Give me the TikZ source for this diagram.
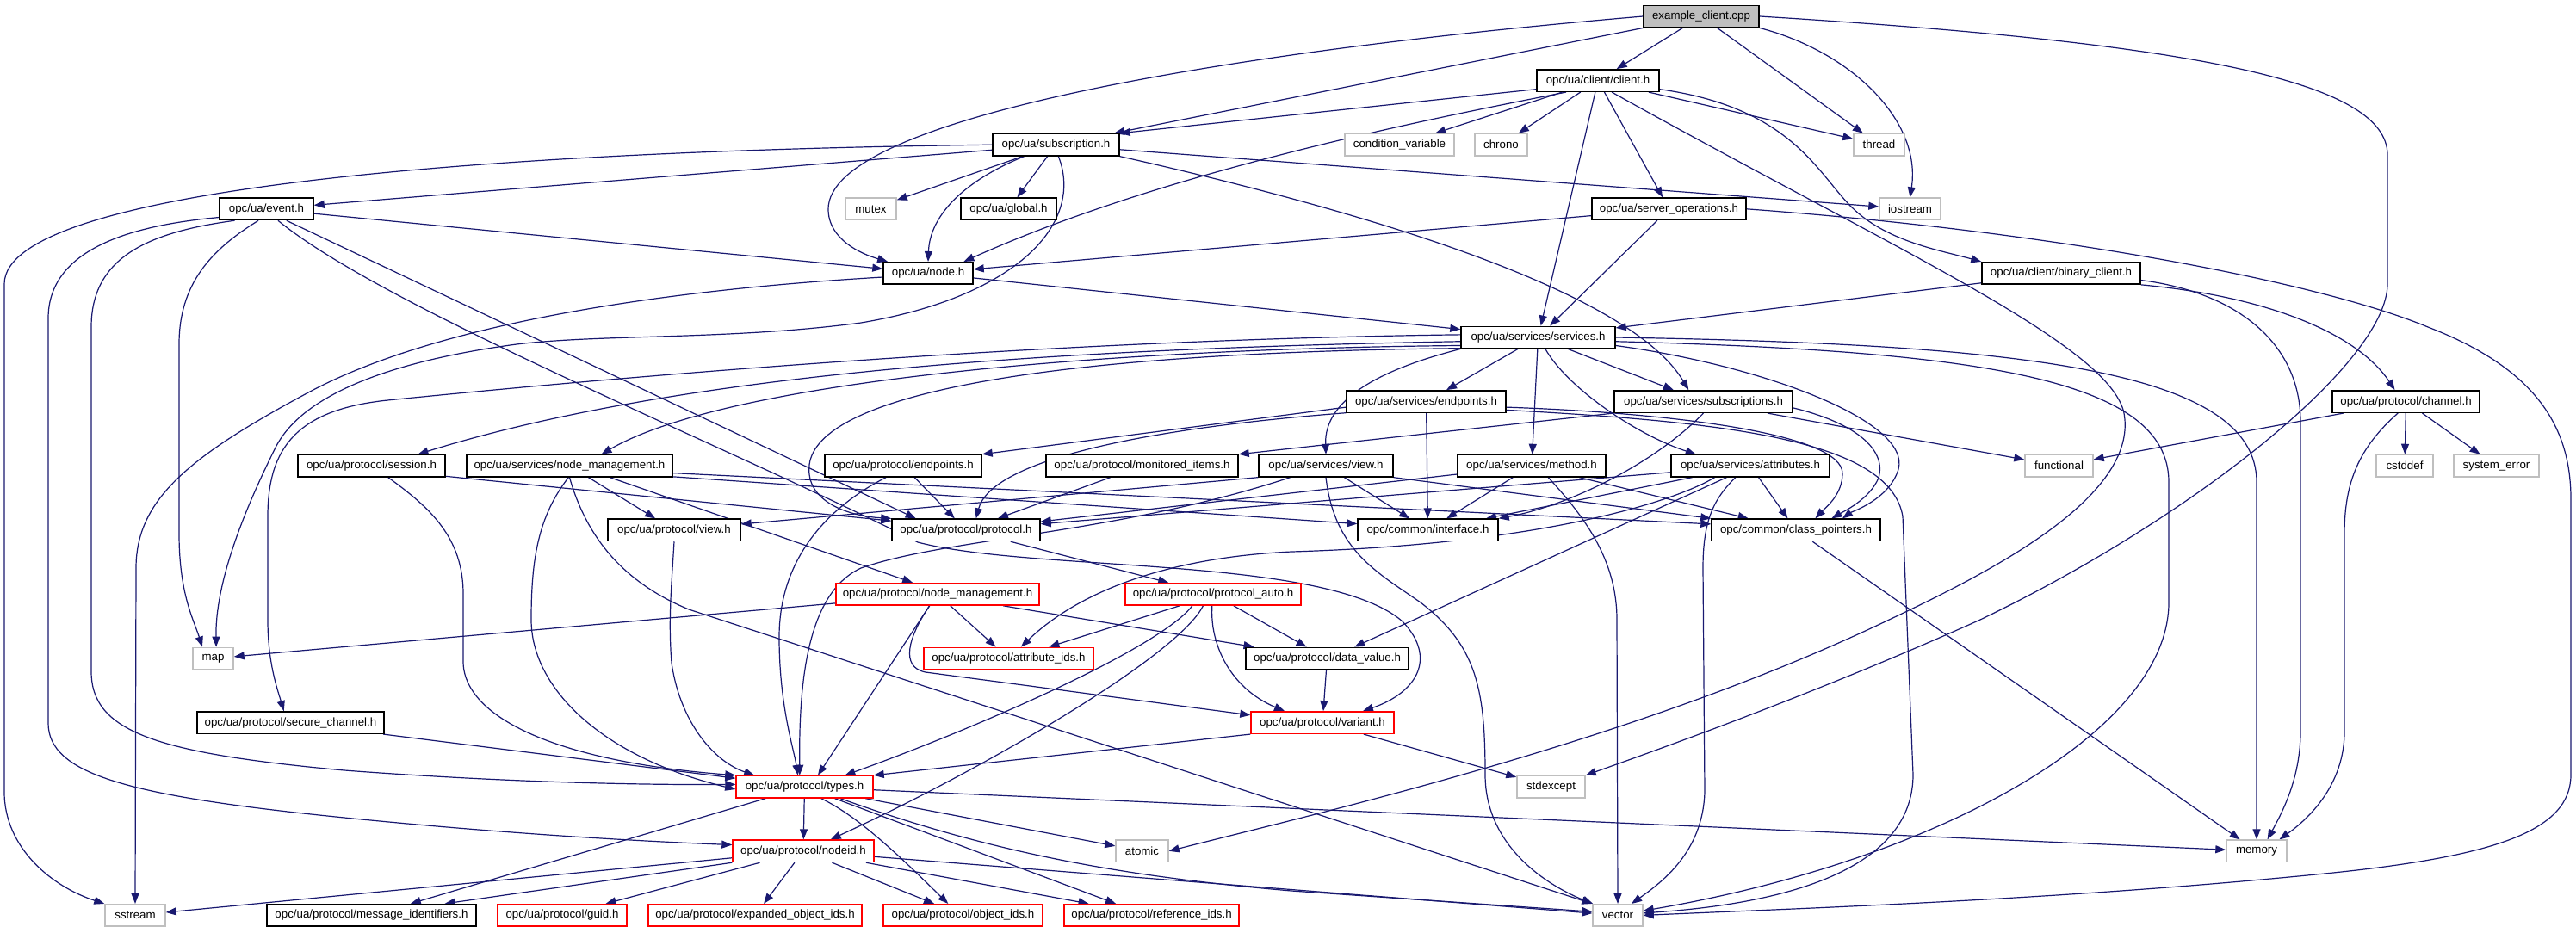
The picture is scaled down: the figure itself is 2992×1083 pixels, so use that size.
\documentclass[tikz,border=0pt]{standalone}
\usepackage{fontspec}
\setmainfont{Liberation Sans}
\usetikzlibrary{arrows.meta}
\pgfdeclarelayer{bg}
\pgfsetlayers{bg,main}
\definecolor{edgeblue}{HTML}{191970}
\definecolor{extgray}{HTML}{BFBFBF}
\definecolor{redborder}{HTML}{FF0000}
\begin{document}
\begin{tikzpicture}[x=0.5pt,y=-0.5pt,
  box/.style={draw=black, line width=0.7pt, fill=white, inner sep=0pt, minimum height=12.75pt, font=\fontsize{6.65}{8}\selectfont},
  docbox/.style={box},
  redbox/.style={box,draw=redborder},
  extbox/.style={box,draw=extgray},
  rootbox/.style={box,fill=extgray},
  dep/.style={draw=edgeblue, line width=0.6pt, -{Triangle[length=6pt,width=4.5pt]}}]

\node[rootbox, minimum width=67pt] (ec) at (1976,19) {example\_client.cpp};
\node[docbox, minimum width=71pt] (client) at (1856,93.6) {opc/ua/client/client.h};
\node[docbox, minimum width=73.5pt] (subscr) at (1226.5,168.2) {opc/ua/subscription.h};
\node[extbox, minimum width=63.5pt] (condvar) at (1625.5,168.2) {condition\_variable};
\node[extbox, minimum width=30.5pt] (chrono) at (1743.5,168.2) {chrono};
\node[extbox, minimum width=29.5pt] (thread) at (2182.5,168.2) {thread};
\node[docbox, minimum width=54.5pt] (event) at (309.5,242.8) {opc/ua/event.h};
\node[extbox, minimum width=29.5pt] (mutex) at (1011.5,242.8) {mutex};
\node[docbox, minimum width=55.5pt] (global) at (1171.5,242.8) {opc/ua/global.h};
\node[docbox, minimum width=89.5pt] (serverops) at (1938.5,242.8) {opc/ua/server\_operations.h};
\node[extbox, minimum width=35.5pt] (iostream) at (2218.5,242.8) {iostream};
\node[docbox, minimum width=52pt] (nodeh) at (1078,317.4) {opc/ua/node.h};
\node[docbox, minimum width=92pt] (binclient) at (2394,317.4) {opc/ua/client/binary\_client.h};
\node[docbox, minimum width=89.5pt] (services) at (1786.5,392) {opc/ua/services/services.h};
\node[docbox, minimum width=92.5pt] (sendpoints) at (1656.5,466.6) {opc/ua/services/endpoints.h};
\node[docbox, minimum width=103.5pt] (ssubs) at (1978.5,466.6) {opc/ua/services/subscriptions.h};
\node[docbox, minimum width=85.5pt] (channel) at (2794.5,466.6) {opc/ua/protocol/channel.h};
\node[docbox, minimum width=85.5pt] (session) at (431.5,541.2) {opc/ua/protocol/session.h};
\node[docbox, minimum width=119.5pt] (snodemgmt) at (661.5,541.2) {opc/ua/services/node\_management.h};
\node[docbox, minimum width=91pt] (pendpoints) at (1049,541.2) {opc/ua/protocol/endpoints.h};
\node[docbox, minimum width=111.5pt] (monitored) at (1326.5,541.2) {opc/ua/protocol/monitored\_items.h};
\node[docbox, minimum width=78pt] (sview) at (1540,541.2) {opc/ua/services/view.h};
\node[docbox, minimum width=86pt] (method) at (1779,541.2) {opc/ua/services/method.h};
\node[docbox, minimum width=92pt] (attrs) at (2033,541.2) {opc/ua/services/attributes.h};
\node[extbox, minimum width=39.5pt] (functional) at (2391.5,541.2) {functional};
\node[extbox, minimum width=33pt] (cstddef) at (2793,541.2) {cstddef};
\node[extbox, minimum width=49.5pt] (syserr) at (2899.5,541.2) {system\_error};
\node[docbox, minimum width=77pt] (pview) at (783,615.8) {opc/ua/protocol/view.h};
\node[docbox, minimum width=86pt] (protocol) at (1122,615.8) {opc/ua/protocol/protocol.h};
\node[docbox, minimum width=81.5pt] (interface) at (1658.5,615.8) {opc/common/interface.h};
\node[docbox, minimum width=98pt] (classptr) at (2086,615.8) {opc/common/class\_pointers.h};
\node[redbox, minimum width=118pt] (pnodemgmt) at (1089,690.4) {opc/ua/protocol/node\_management.h};
\node[redbox, minimum width=102pt] (pauto) at (1409,690.4) {opc/ua/protocol/protocol\_auto.h};
\node[extbox, minimum width=23.5pt] (map) at (247.5,765) {map};
\node[redbox, minimum width=98.5pt] (attrids) at (1171.5,765) {opc/ua/protocol/attribute\_ids.h};
\node[docbox, minimum width=94.5pt] (datavalue) at (1541.5,765) {opc/ua/protocol/data\_value.h};
\node[docbox, minimum width=108.5pt] (securech) at (337.5,839.6) {opc/ua/protocol/secure\_channel.h};
\node[redbox, minimum width=83pt] (variant) at (1536,839.6) {opc/ua/protocol/variant.h};
\node[redbox, minimum width=79.5pt] (types) at (934.5,914.2) {opc/ua/protocol/types.h};
\node[extbox, minimum width=39.5pt] (stdexcept) at (1801.5,914.2) {stdexcept};
\node[redbox, minimum width=82pt] (nodeid) at (933,988.8) {opc/ua/protocol/nodeid.h};
\node[extbox, minimum width=30.5pt] (atomic) at (1326.5,988.8) {atomic};
\node[extbox, minimum width=35pt] (memory) at (2621,988.8) {memory};
\node[extbox, minimum width=35pt] (sstream) at (157,1063.4) {sstream};
\node[docbox, minimum width=121.5pt] (msgids) at (431.5,1063.4) {opc/ua/protocol/message\_identifiers.h};
\node[redbox, minimum width=75pt] (guid) at (653,1063.4) {opc/ua/protocol/guid.h};
\node[redbox, minimum width=124pt] (expobj) at (877,1063.4) {opc/ua/protocol/expanded\_object\_ids.h};
\node[redbox, minimum width=92.5pt] (objids) at (1118.5,1063.4) {opc/ua/protocol/object\_ids.h};
\node[redbox, minimum width=101.5pt] (refids) at (1337.5,1063.4) {opc/ua/protocol/reference\_ids.h};
\node[extbox, minimum width=29pt] (vector) at (1879,1063.4) {vector};

\begin{pgfonlayer}{bg}
\fill[white] (0,0) rectangle (2992,1083);
\useasboundingbox (0,0) rectangle (2992,1083);
% example_client.cpp
\draw[dep] (ec) -- (client);
\draw[dep] (ec) -- (subscr);
\draw[dep] (ec.west) .. controls (1400,62) and (962,140) .. (962,243) .. controls (962,278) and (1000,295) .. (nodeh.164);
\draw[dep] (ec) -- (thread);
\draw[dep] (ec.south east) .. controls (2150,60) and (2232,140) .. (iostream.north);
\draw[dep] (ec.east) .. controls (2550,50) and (2773,95) .. (2773,180) -- (2773,330) .. controls (2773,420) and (2550,600) .. (2300,720) .. controls (2100,810) and (1900,880) .. (stdexcept.north east);
% client.h
\draw[dep] (client.188) -- (subscr.north east);
\draw[dep] (client) -- (condvar);
\draw[dep] (client) -- (chrono);
\draw[dep] (client) -- (thread);
\draw[dep] (client) -- (serverops);
\draw[dep] (client) -- (services);
\draw[dep] (client.200) .. controls (1650,140) and (1350,200) .. (nodeh.18);
\draw[dep] (client.352) .. controls (2080,125) and (2110,200) .. (2150,240) .. controls (2190,280) and (2250,290) .. (binclient.north west);
\draw[dep] (client.320) .. controls (2200,290) and (2450,400) .. (2467,480) .. controls (2485,580) and (2300,670) .. (2190,722) .. controls (1900,860) and (1550,940) .. (atomic.east);
% subscription.h
\draw[dep] (subscr) -- (iostream);
\draw[dep] (subscr.south east) .. controls (1650,260) and (1900,350) .. (ssubs.142);
\draw[dep] (subscr) -- (event);
\draw[dep] (subscr.west) .. controls (600,175) and (5,215) .. (5,330) -- (5,920) .. controls (5,985) and (60,1030) .. (sstream.north west);
\draw[dep] (subscr) -- (mutex);
\draw[dep] (subscr) -- (global);
\draw[dep] (subscr.200) .. controls (1120,210) and (1080,250) .. (nodeh.north);
\draw[dep] (subscr.282) .. controls (1260,260) and (1180,345) .. (1000,375) .. controls (850,395) and (700,388) .. (600,400) .. controls (450,420) and (350,460) .. (320,520) .. controls (280,600) and (250,680) .. (map.75);
% event.h
\draw[dep] (event) -- (nodeh);
\draw[dep] (event.190) .. controls (150,262) and (56,290) .. (56,370) -- (56,840) .. controls (56,900) and (150,925) .. (400,950) .. controls (600,970) and (760,978) .. (nodeid.175);
\draw[dep] (event.200) .. controls (170,270) and (106,300) .. (106,380) -- (106,780) .. controls (106,850) and (180,875) .. (400,895) .. controls (600,910) and (760,912) .. (types.178);
\draw[dep] (event.235) .. controls (245,290) and (208,330) .. (208,400) -- (208,620) .. controls (208,690) and (225,720) .. (map.133);
\draw[dep] (event.330) -- (protocol.167);
\draw[dep] (event.315) .. controls (450,360) and (850,520) .. (1066,630) .. controls (1200,665) and (1540,645) .. (1629,722) .. controls (1670,765) and (1645,805) .. (variant.16);
% node.h
\draw[dep] (nodeh) -- (services);
\draw[dep] (nodeh.185) .. controls (800,335) and (520,370) .. (360,455) .. controls (220,530) and (158,580) .. (158,660) -- (sstream.north);
% server_operations.h
\draw[dep] (serverops) -- (nodeh);
\draw[dep] (serverops) -- (services);
\draw[dep] (serverops.east) .. controls (2400,270) and (2700,330) .. (2820,380) .. controls (2950,430) and (2986,500) .. (2986,580) -- (2986,900) .. controls (2986,965) and (2900,995) .. (2700,1015) .. controls (2400,1045) and (2100,1055) .. (vector.east);
% binary_client.h
\draw[dep] (binclient) -- (services);
\draw[dep] (binclient.355) .. controls (2600,340) and (2672,400) .. (2672,490) -- (2672,850) .. controls (2672,905) and (2650,945) .. (memory.47);
\draw[dep] (binclient.south east) .. controls (2640,345) and (2740,390) .. (channel.134);
% services.h
\draw[dep] (services) -- (sendpoints);
\draw[dep] (services) -- (ssubs);
\draw[dep] (services) -- (method);
\draw[dep] (services.302) .. controls (1820,450) and (1900,505) .. (attrs.168);
\draw[dep] (services.south west) .. controls (1600,430) and (1538,465) .. (sview.north);
\draw[dep] (services.186) .. controls (1300,405) and (850,440) .. (snodemgmt.20);
\draw[dep] (services.183) .. controls (1250,405) and (800,430) .. (session.14);
\draw[dep] (services.178) .. controls (1200,395) and (700,440) .. (450,465) .. controls (345,476) and (311,520) .. (311,600) -- (311,720) .. controls (311,770) and (322,800) .. (securech.120);
\draw[dep] (services.188) .. controls (1200,410) and (950,460) .. (940,540) .. controls (935,585) and (990,600) .. (protocol.north west);
\draw[dep] (services.354) .. controls (2050,425) and (2220,490) .. (2205,545) .. controls (2195,580) and (2150,595) .. (classptr.14);
\draw[dep] (services.east) .. controls (2350,400) and (2621,430) .. (2621,560) -- (memory.north);
\draw[dep] (services.357) .. controls (2300,408) and (2519,440) .. (2519,560) -- (2519,700) .. controls (2519,850) and (2250,1000) .. (vector.10);
% services/endpoints.h
\draw[dep] (sendpoints.184) -- (pendpoints.north east);
\draw[dep] (sendpoints.188) .. controls (1300,500) and (1150,540) .. (protocol.49);
\draw[dep] (sendpoints) -- (interface);
\draw[dep] (sendpoints.356) .. controls (1950,480) and (2140,505) .. (2140,550) .. controls (2140,575) and (2120,590) .. (classptr.31);
\draw[dep] (sendpoints.354) .. controls (2000,490) and (2195,510) .. (2210,600) -- (2222,900) .. controls (2222,1000) and (2100,1048) .. (vector.5);
% services/subscriptions.h
\draw[dep] (ssubs.south west) -- (monitored.north east);
\draw[dep] (ssubs.south) .. controls (1920,540) and (1820,588) .. (interface.north east);
\draw[dep] (ssubs.356) .. controls (2150,490) and (2192,520) .. (2182,555) .. controls (2172,580) and (2140,595) .. (classptr.18);
\draw[dep] (ssubs) -- (functional);
% channel.h
\draw[dep] (channel) -- (functional);
\draw[dep] (channel) -- (cstddef);
\draw[dep] (channel) -- (syserr);
\draw[dep] (channel.235) .. controls (2740,520) and (2723,560) .. (2723,620) -- (2723,850) .. controls (2723,905) and (2690,945) .. (memory.27);
% session.h
\draw[dep] (session.352) -- (protocol.173);
\draw[dep] (session.325) .. controls (500,590) and (538,625) .. (538,690) -- (538,770) .. controls (540,835) and (650,885) .. (types.north west);
% services/node_management.h
\draw[dep] (snodemgmt) -- (pview);
\draw[dep] (snodemgmt.344) -- (pnodemgmt.155);
\draw[dep] (snodemgmt.265) .. controls (625,600) and (617,650) .. (617,720) .. controls (617,800) and (700,880) .. (types.182);
\draw[dep] (snodemgmt.south) .. controls (680,620) and (720,675) .. (800,708) -- (vector.north west);
\draw[dep] (snodemgmt.354) -- (interface.175);
\draw[dep] (snodemgmt.356) -- (classptr.176);
% protocol/endpoints.h
\draw[dep] (pendpoints) -- (protocol);
\draw[dep] (pendpoints.214) .. controls (960,590) and (905,650) .. (905,740) .. controls (905,820) and (922,870) .. (types.120);
% monitored_items.h
\draw[dep] (monitored) -- (protocol);
% services/view.h
\draw[dep] (sview.south west) -- (pview.5);
\draw[dep] (sview) -- (interface);
\draw[dep] (sview.south east) -- (classptr.north west);
\draw[dep] (sview.198) .. controls (1300,620) and (1100,625) .. (1000,660) .. controls (935,690) and (928,800) .. (types.113);
\draw[dep] (sview.south) .. controls (1550,640) and (1600,665) .. (1650,700) .. controls (1715,750) and (1725,800) .. (1725,900) .. controls (1725,985) and (1800,1030) .. (vector.155);
% services/method.h
\draw[dep] (method) -- (protocol);
\draw[dep] (method) -- (interface);
\draw[dep] (method) -- (classptr);
\draw[dep] (method.325) .. controls (1840,600) and (1878,650) .. (1878,720) -- (vector.north);
% services/attributes.h
\draw[dep] (attrs) -- (protocol);
\draw[dep] (attrs) -- (interface);
\draw[dep] (attrs) -- (classptr);
\draw[dep] (attrs.198) .. controls (1950,580) and (1800,632) .. (1500,641) .. controls (1350,648) and (1250,690) .. (attrids.43);
\draw[dep] (attrs.206) -- (datavalue.23);
\draw[dep] (attrs.218) .. controls (1990,580) and (1978,605) .. (1978,660) -- (1980,920) .. controls (1978,990) and (1930,1025) .. (vector.40);
% protocol/view.h
\draw[dep] (pview.south) .. controls (780,680) and (776,720) .. (780,770) .. controls (790,840) and (830,885) .. (types.167);
% protocol.h
\draw[dep] (protocol) -- (pauto);
% class_pointers.h
\draw[dep] (classptr) -- (memory);
% protocol/node_management.h
\draw[dep] (pnodemgmt) -- (map);
\draw[dep] (pnodemgmt) -- (attrids);
\draw[dep] (pnodemgmt.235) -- (types.41);
\draw[dep] (pnodemgmt.235) .. controls (1055,740) and (1045,775) .. (1075,781) -- (variant.174);
\draw[dep] (pnodemgmt.350) -- (datavalue.171);
% protocol_auto.h
\draw[dep] (pauto.199) -- (attrids.16);
\draw[dep] (pauto) -- (datavalue);
\draw[dep] (pauto.265) .. controls (1405,750) and (1430,800) .. (variant.163);
\draw[dep] (pauto.209) .. controls (1350,750) and (1150,840) .. (types.16);
\draw[dep] (pauto.229) .. controls (1370,760) and (1150,890) .. (nodeid.23);
% data_value.h, variant.h, secure_channel.h
\draw[dep] (datavalue) -- (variant);
\draw[dep] (variant.south west) -- (types.north east);
\draw[dep] (variant) -- (stdexcept);
\draw[dep] (securech) -- (types);
% types.h
\draw[dep] (types) -- (nodeid);
\draw[dep] (types) -- (atomic);
\draw[dep] (types) -- (memory);
\draw[dep] (types) -- (msgids);
\draw[dep] (types.325) .. controls (1000,950) and (1050,1000) .. (objids.142);
\draw[dep] (types.339) -- (refids.162);
\draw[dep] (types.342) .. controls (1150,990) and (1300,1018) .. (1500,1035) -- (vector.172);
% nodeid.h
\draw[dep] (nodeid) -- (sstream);
\draw[dep] (nodeid.south west) -- (msgids.9);
\draw[dep] (nodeid) -- (guid);
\draw[dep] (nodeid) -- (expobj);
\draw[dep] (nodeid) -- (objids);
\draw[dep] (nodeid) -- (refids);
\draw[dep] (nodeid) -- (vector);
\end{pgfonlayer}
\end{tikzpicture}
\end{document}
